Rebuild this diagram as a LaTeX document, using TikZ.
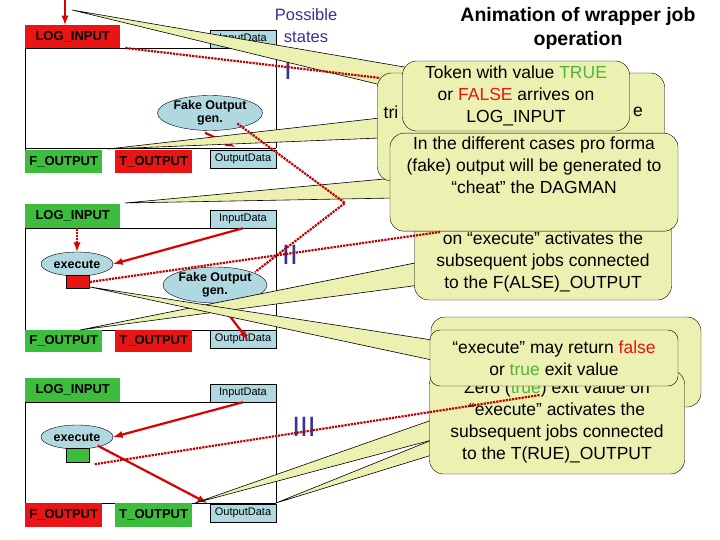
\documentclass[tikz,border=0pt]{standalone}
\usepackage{fontspec}
\setmainfont{Liberation Sans}
\usetikzlibrary{shapes.geometric}
\definecolor{callout}{RGB}{236,240,176}
\definecolor{lblue}{RGB}{176,216,224}
\definecolor{mgreen}{RGB}{60,190,60}
\definecolor{mred}{RGB}{235,20,20}
\definecolor{navy}{RGB}{51,51,153}
\definecolor{tgreen}{RGB}{80,180,60}
\begin{document}
\begin{tikzpicture}[x=1pt,y=-1pt,
  port/.style={draw=none,anchor=north west,font=\bfseries\fontsize{13}{14}\selectfont,inner sep=3pt},
  data/.style={draw,fill=lblue,font=\fontsize{11}{12}\selectfont,inner sep=1pt,minimum width=66pt,minimum height=18pt},
  proc/.style={ellipse,draw,fill=lblue,font=\bfseries\fontsize{12.5}{13}\selectfont,align=center,inner sep=0pt},
  callout/.style={draw,fill=callout,rounded corners=14pt,align=center,font=\fontsize{17.5}{22}\selectfont},
  wedge/.style={draw,fill=callout,line width=0.6pt},
  arr/.style={red!85!black,line width=2.2pt,->,>=latex},
  dots/.style={red!75!black,line width=2.2pt,densely dotted},
  roman/.style={navy,font=\fontsize{28}{28}\selectfont}]
\useasboundingbox (0,0) rectangle (720,540);

% ---------- panel I ----------
\draw (25,48) -- (25,173) (25,48) -- (276,48) -- (276,148) (25,148) -- (276,148);
\node (li1) [fill=mred,minimum width=95pt,minimum height=23pt,port] at (25,25) {LOG\_INPUT};
\node (in1) [data] at (243,39) {InputData};
\node (fo1) [proc,minimum width=105pt,minimum height=35pt] at (210,113) {Fake Output\\gen.};
\node (fa1) [fill=mgreen,minimum width=77pt,minimum height=23pt,port] at (25,150) {F\_OUTPUT};
\node (tr1) [fill=mred,minimum width=77pt,minimum height=23pt,port] at (115,150) {T\_OUTPUT};
\node (ou1) [data] at (243,159) {OutputData};
\coordinate (top) at (65,0);
\draw [arr] (top) -- (li1.north west -| top);

% ---------- panel II ----------
\draw (25,228) -- (25,352) (25,228) -- (276,228) -- (276,330) (25,330) -- (276,330);
\node (li2) [fill=mgreen,minimum width=95pt,minimum height=24pt,port] at (25,204) {LOG\_INPUT};
\node (in2) [data] at (243,219) {InputData};
\node (ex2) [proc,minimum width=72pt,minimum height=24pt] at (77,264) {execute};
\node (rr2) [draw,fill=mred,minimum width=23pt,minimum height=13pt,inner sep=0pt] at (78,282) {};
\node (fo2) [proc,minimum width=104pt,minimum height=36pt] at (215,285) {Fake Output\\gen.};
\node (fa2) [fill=mgreen,minimum width=77pt,minimum height=22pt,port] at (25,330) {F\_OUTPUT};
\node (tr2) [fill=mred,minimum width=77pt,minimum height=22pt,port] at (115,330) {T\_OUTPUT};
\node (ou2) [data] at (243,339) {OutputData};

% ---------- panel III ----------
\draw (25,402) -- (25,527) (25,402) -- (276,402) -- (276,503) (25,503) -- (276,503);
\node (li3) [fill=mgreen,minimum width=95pt,minimum height=24pt,port] at (25,378) {LOG\_INPUT};
\node (in3) [data] at (243,393) {InputData};
\node (ex3) [proc,minimum width=72pt,minimum height=24pt] at (77,437) {execute};
\node (gr3) [draw,fill=mgreen,minimum width=23pt,minimum height=14pt,inner sep=0pt] at (78,455) {};
\node (fa3) [fill=mred,minimum width=77pt,minimum height=24pt,port] at (25,503) {F\_OUTPUT};
\node (tr3) [fill=mgreen,minimum width=77pt,minimum height=24pt,port] at (115,503) {T\_OUTPUT};
\node (ou3) [data] at (243,513) {OutputData};

% ---------- titles ----------
\node (ps) [navy,align=center,font=\fontsize{16.5}{22}\selectfont] at (306,26) {Possible\\states};
\node (ti) [align=center,font=\bfseries\fontsize{19.5}{24}\selectfont] at (578,28) {Animation of wrapper job\\operation};
\node (r1) [roman] at (288,70) {I};
\node (r2) [roman] at (290,255) {II};
\node (r3) [roman] at (304,427) {III};

% ---------- inner arrows ----------
\draw [arr] (fo1.south) ++(-5,2) -- (235,147);
\draw [arr] (in2.south) -- (ex2.east);
\draw [arr,densely dotted] (li2.south west -| ex2) -- (ex2.north);
\draw [arr] (fo2.south) ++(5,0) -- (248,340);
\draw [arr] (in3.south) -- (ex3.east);
\draw [arr] (ex3.south east) ++(-5,0) -- (207,503);

% ---------- callout pointers (behind boxes) ----------
\coordinate (w1) at (72,10);
\coordinate (w2) at (125,203);
\coordinate (w3) at (108,149);
\coordinate (w4) at (90,287);
\coordinate (w5) at (80,330);
\coordinate (w6) at (195,503);
\coordinate (w7) at (276,503);
\filldraw [wedge] (w1) -- (410,68) -- (410,92) -- cycle;
\filldraw [wedge] (w3) -- (380,118) -- (380,138) -- cycle;
\filldraw [wedge] (w2) -- (395,178) -- (395,198) -- cycle;
\filldraw [wedge] (w5) -- (420,262) -- (420,285) -- cycle;
\filldraw [wedge] (w4) -- (432,340) -- (432,360) -- cycle;
\filldraw [wedge] (w6) -- (432,420) -- (432,440) -- cycle;
\filldraw [wedge] (w7) -- (432,440) -- (432,455) -- cycle;

% ---------- callouts ----------
\node (c0) [callout,minimum width=287pt,minimum height=108pt] at (521,127) {};
\node (c0a) [font=\fontsize{17.5}{18}\selectfont] at (391,112) {tri};
\node (c0b) [font=\fontsize{17.5}{18}\selectfont] at (638,112) {e};
\node (cf) [callout,minimum width=257pt,minimum height=100pt] at (543,250) {};
\node (cft) [align=center,font=\fontsize{17.5}{22}\selectfont] at (543,262) {on “execute” activates the\\subsequent jobs connected\\to the F(ALSE)\_OUTPUT};
\node (ck) [callout,minimum width=227pt,minimum height=70pt] at (516,96) {Token with value \textcolor{tgreen}{TRUE}\\or \textcolor{mred}{FALSE} arrives on\\LOG\_INPUT};
\node (cd) [callout,minimum width=288pt,minimum height=98pt,anchor=north] at (534,133) {In the different cases pro forma\\(fake) output will be generated to\\“cheat” the DAGMAN\\[12pt]};
\node (cb) [callout,minimum width=270pt,minimum height=90pt] at (566,362) {};
\node (ct) [callout,minimum width=255pt,minimum height=104pt] at (557,422) {Zero (\textcolor{tgreen}{true}) exit value on\\“execute” activates the\\subsequent jobs connected\\to the T(RUE)\_OUTPUT};
\node (ce) [callout,minimum width=248pt,minimum height=56pt,rounded corners=10pt] at (554,358) {“execute” may return \textcolor{mred}{false}\\or \textcolor{tgreen}{true} exit value};

% ---------- dotted connectors ----------
\draw [dots] (li1.north east) ++(5,23) -- (380,78);
\draw [dots] (fo1.south east) ++(-10,-2) -- (345,203) -- (255,272);
\draw [dots] (rr2.east) -- (440,232);
\draw [dots] (gr3.south east) ++(5,2) -- (540,395);
\end{tikzpicture}
\end{document}
